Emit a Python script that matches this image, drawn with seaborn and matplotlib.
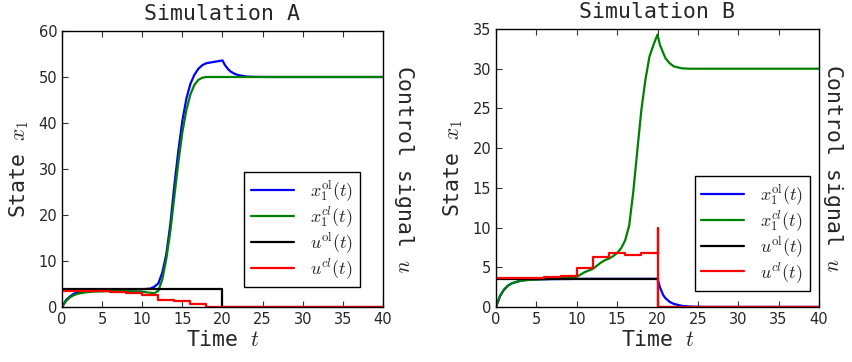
import numpy as np
import pandas as pd
import matplotlib
matplotlib.use('Agg')
import matplotlib.pyplot as plt
import seaborn as sns

# ---- Simulation A ----
tA = [0, 0.5, 1, 1.5, 2, 3, 4, 6, 8, 10, 11, 11.5, 12, 12.5, 13, 13.5, 14, 14.5,
      15, 15.5, 16, 16.5, 17, 17.5, 18, 19, 20, 20.3, 20.7, 21, 21.5, 22, 23, 24, 26, 40]
xA_ol = [0, 1.5, 2.3, 2.9, 3.2, 3.5, 3.65, 3.75, 3.8, 3.85, 4.0, 4.4, 5.1, 7.5, 11.5, 18,
         26.5, 34, 40.5, 45.3, 48.5, 50.5, 51.8, 52.6, 53.0, 53.3, 53.6, 52.6, 51.7, 51.2,
         50.7, 50.4, 50.1, 50.03, 50, 50]
xA_cl = [0, 1.3, 2.1, 2.6, 2.9, 3.2, 3.35, 3.45, 3.45, 3.3, 3.1, 3.0, 3.5, 6.0, 10.5, 16.5,
         24, 31.5, 38, 42.8, 46.2, 48.3, 49.4, 49.85, 50, 50, 50, 50, 50, 50,
         50, 50, 50, 50, 50, 50]
tuA_ol = [0, 20, 40]
uA_ol = [4.0, 0, 0]
tuA_cl = [0, 2, 4, 6, 8, 10, 12, 14, 16, 18, 40]
uA_cl = [3.5, 3.45, 3.4, 3.35, 3.0, 2.65, 1.55, 1.2, 0.7, 0, 0]

# ---- Simulation B ----
tB = [0, 0.5, 1, 1.5, 2, 3, 4, 6, 8, 10, 10.5, 11, 11.5, 12, 12.5, 13, 13.5, 14, 14.5,
      15, 15.5, 16, 16.5, 17, 17.5, 18, 18.5, 19, 19.5, 20, 20.3, 20.7, 21, 21.5, 22,
      23, 24, 25, 26, 40]
xB_ol = [0, 1.4, 2.2, 2.7, 3.0, 3.3, 3.45, 3.5, 3.52, 3.54, 3.54, 3.55, 3.55, 3.55, 3.55,
         3.55, 3.55, 3.55, 3.55, 3.55, 3.55, 3.55, 3.55, 3.55, 3.55, 3.55, 3.55, 3.55,
         3.55, 3.55, 2.5, 1.5, 1.1, 0.65, 0.4, 0.15, 0.05, 0.02, 0, 0]
xB_cl = [0, 1.4, 2.2, 2.7, 3.0, 3.3, 3.4, 3.5, 3.6, 3.8, 4.1, 4.4, 4.6, 4.8, 5.2, 5.6,
         5.9, 6.1, 6.4, 6.8, 7.4, 8.4, 10.3, 14.5, 19.7, 24.8, 28.6, 31.5, 33.0, 34.3,
         33.0, 32.0, 31.3, 30.7, 30.3, 30.05, 30, 30, 30, 30]
tuB_ol = [0, 20, 40]
uB_ol = [3.5, 0, 0]
tuB_cl = [0, 4, 6, 8, 10, 12, 14, 16, 18, 20, 20, 40]
uB_cl = [3.6, 3.7, 3.8, 3.95, 4.9, 6.3, 6.8, 6.6, 6.8, 10.0, 0, 0]

sns.set_style('ticks', {'xtick.direction': 'in', 'ytick.direction': 'in',
                        'axes.edgecolor': 'black'})
plt.rcParams['mathtext.fontset'] = 'cm'
plt.rcParams['font.family'] = ['DejaVu Sans']

mono = 'DejaVu Sans Mono'

fig = plt.figure(figsize=(8.53, 3.62), dpi=100)
axA = fig.add_axes([62 / 853, 55 / 362, 321 / 853, 276 / 362])
axB = fig.add_axes([496 / 853, 55 / 362, 323 / 853, 278 / 362])

labels = [r'$x_1^{\mathrm{ol}}(t)$', r'$x_1^{cl}(t)$', r'$u^{\mathrm{ol}}(t)$', r'$u^{cl}(t)$']


def draw(ax, t, xol, xcl, tuo, uo, tuc, uc, ymax, ystep, title, anchor, rpad):
    lw = 1.6
    sns.lineplot(x=t, y=xol, color='b', lw=lw, ax=ax, label=labels[0],
                 estimator=None, sort=False)
    sns.lineplot(x=t, y=xcl, color='g', lw=lw, ax=ax, label=labels[1],
                 estimator=None, sort=False)
    sns.lineplot(x=tuo, y=uo, color='k', lw=lw, ax=ax, label=labels[2],
                 drawstyle='steps-post', estimator=None, sort=False)
    sns.lineplot(x=tuc, y=uc, color='r', lw=lw, ax=ax, label=labels[3],
                 drawstyle='steps-post', estimator=None, sort=False)
    ax.set_xlim(0, 40)
    ax.set_ylim(0, ymax)
    ax.set_xticks(np.arange(0, 41, 5))
    ax.set_yticks(np.arange(0, ymax + 1, ystep))
    ax.tick_params(top=True, right=True, labelsize=10.5, length=4, width=0.8,
                   color='#333333')
    for s in ax.spines.values():
        s.set_linewidth(1.0)
    ax.set_title(title, family=mono, fontsize=15.5, pad=8)
    ax.set_xlabel('Time $t$', family=mono, fontsize=15.5, labelpad=2)
    ax.set_ylabel('State $x_1$', family=mono, fontsize=15.5, labelpad=5)
    ax.legend(loc='lower right', bbox_to_anchor=anchor, fontsize=13,
              frameon=True, fancybox=False, framealpha=1, edgecolor='black',
              handlelength=2.4, handletextpad=0.9, labelspacing=0.06,
              borderpad=0.35, borderaxespad=0)
    ax.get_legend().get_frame().set_linewidth(1.0)
    ax2 = ax.twinx()
    ax2.set_ylim(0, ymax)
    ax2.set_yticks(np.arange(0, ymax + 1, ystep))
    ax2.tick_params(right=False, labelright=False)
    ax2.set_ylabel('Control signal $u$', family=mono, fontsize=15.5,
                   rotation=270, labelpad=rpad)
    for s in ax2.spines.values():
        s.set_visible(False)


draw(axA, tA, xA_ol, xA_cl, tuA_ol, uA_ol, tuA_cl, uA_cl, 60, 10, 'Simulation A',
     (0.928, 0.072), 24)
draw(axB, tB, xB_ol, xB_cl, tuB_ol, uB_ol, tuB_cl, uB_cl, 35, 5, 'Simulation B',
     (0.972, 0.058), 19)

fig.savefig('out.png', dpi=100)
